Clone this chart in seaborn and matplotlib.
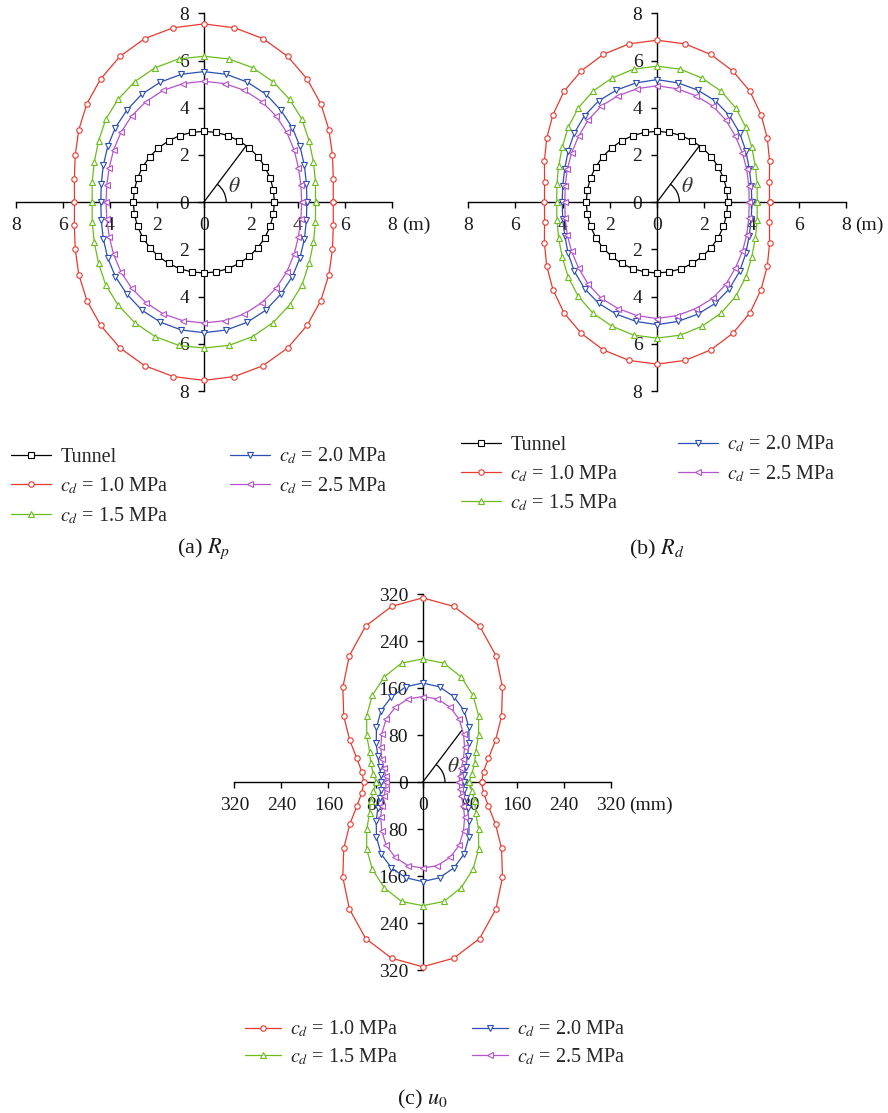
import numpy as np
import pandas as pd
import matplotlib
matplotlib.use('Agg')
import matplotlib.pyplot as plt
from matplotlib.patches import Arc
import seaborn as sns

theta_q = [0, 10, 20, 30, 40, 50, 60, 70, 80, 90]
tunnel_r = [3.0, 3.0, 3.0, 3.0, 3.0, 3.0, 3.0, 3.0, 3.0, 3.0]

# (a) plastic zone radius Rp (m)
rp_10 = [5.50, 5.59, 5.82, 6.14, 6.49, 6.82, 7.13, 7.37, 7.50, 7.55]
rp_15 = [4.75, 4.82, 4.96, 5.17, 5.45, 5.68, 5.89, 6.06, 6.16, 6.18]
rp_20 = [4.38, 4.43, 4.55, 4.72, 4.91, 5.09, 5.28, 5.41, 5.50, 5.53]
rp_25 = [4.16, 4.19, 4.28, 4.43, 4.60, 4.77, 4.92, 5.04, 5.10, 5.12]

# (b) Rd (m)
rd_10 = [4.77, 4.84, 5.08, 5.40, 5.76, 6.13, 6.42, 6.66, 6.81, 6.86]
rd_15 = [4.25, 4.31, 4.44, 4.64, 4.92, 5.20, 5.43, 5.59, 5.72, 5.76]
rd_20 = [4.02, 4.06, 4.16, 4.35, 4.57, 4.78, 4.95, 5.05, 5.13, 5.19]
rd_25 = [3.91, 3.95, 4.05, 4.18, 4.34, 4.54, 4.71, 4.80, 4.88, 4.93]

# (c) wall displacement u0 (mm)
u0_10 = [100, 105, 119, 143, 175, 211, 249, 283, 304, 314]
u0_15 = [79, 85, 94, 104, 124, 148, 171, 191, 206, 210]
u0_20 = [70, 72, 78, 88, 103, 122, 141, 155, 165, 169]
u0_25 = [62, 64, 70, 80, 93, 108, 124, 136, 144, 146]

cd_labels = ['$c_d$ = 1.0 MPa', '$c_d$ = 1.5 MPa', '$c_d$ = 2.0 MPa', '$c_d$ = 2.5 MPa']
colors = ['#e8392e', '#6abd1c', '#2b4fb3', '#b553cc']
markers = ['o', '^', 'v', '<']

sns.set_theme(style='white')
plt.rcParams['font.family'] = ['Liberation Serif', 'DejaVu Serif']
plt.rcParams['mathtext.fontset'] = 'stix'

W, H = 888, 1113
fig = plt.figure(figsize=(W / 100, H / 100), dpi=100)


def px_axes(left, top, right, bottom):
    return fig.add_axes([left / W, 1 - bottom / H, (right - left) / W, (bottom - top) / H])


def full_curve(q):
    # mirror the quadrant to the whole circle, 0..360 deg
    r = list(q) + list(q[8::-1]) + list(q[1:]) + list(q[8::-1])
    ang = np.deg2rad(np.arange(0, 361, 10))
    r = np.array(r, dtype=float)
    return pd.DataFrame({'x': r * np.cos(ang), 'y': r * np.sin(ang)})


def draw_curve(ax, q, color, marker, label):
    df = full_curve(q)
    sns.lineplot(data=df, x='x', y='y', sort=False, estimator=None, ax=ax,
                 color=color, linewidth=0.9, marker=marker, markersize=3.9,
                 markerfacecolor='white', markeredgecolor=color,
                 markeredgewidth=0.8, label=label, clip_on=False)


def style_axes(ax, lim, step, unit, unit_dx, theta_len, arc_r, theta_xy):
    ax.set_xlim(-lim, lim)
    ax.set_ylim(-lim, lim)
    for s in ['top', 'right']:
        ax.spines[s].set_visible(False)
    for s in ['left', 'bottom']:
        ax.spines[s].set_position(('data', 0))
        ax.spines[s].set_color('black')
        ax.spines[s].set_linewidth(1.0)
        ax.spines[s].set_zorder(1)
    ticks = np.arange(-lim, lim + 1, step)
    tl = [str(abs(int(t))) for t in ticks]
    ax.set_xticks(ticks)
    ax.set_xticklabels(tl)
    ax.set_yticks(ticks)
    ax.set_yticklabels(tl)
    ax.tick_params(direction='out', length=4.5, width=1.0, color='black',
                   labelsize=14, labelcolor='#1a1a1a', pad=6,
                   bottom=True, left=True)
    ax.set_xlabel('')
    ax.set_ylabel('')
    ax.annotate(unit, xy=(lim, 0), xycoords='data', xytext=(unit_dx, -10.5),
                textcoords='offset points', ha='left', va='top',
                fontsize=14, color='#1a1a1a')
    # theta indicator
    a = np.deg2rad(53)
    ax.plot([0, theta_len * np.cos(a)], [0, theta_len * np.sin(a)],
            color='black', linewidth=0.9, zorder=3)
    ax.add_patch(Arc((0, 0), 2 * arc_r, 2 * arc_r, theta1=0, theta2=53,
                     color='black', linewidth=0.9, zorder=3))
    ax.text(theta_xy[0], theta_xy[1], r'$\theta$', fontsize=15.5,
            color='#333333', ha='center', va='center')
    ax.patch.set_alpha(0)


def add_legend(ax, x0, y0, colsp, hlen, lsp):
    handles, labels = ax.get_legend_handles_labels()
    ax.legend(handles, labels, loc='upper left',
              bbox_to_anchor=(x0 / W, 1 - y0 / H), bbox_transform=fig.transFigure,
              ncol=2, frameon=False, fontsize=14.5, handlelength=hlen,
              handletextpad=0.45, columnspacing=colsp, labelspacing=lsp,
              borderaxespad=0, borderpad=0)


# (a) Rp
ax1 = px_axes(15.7, 13.3, 392, 391)
draw_curve(ax1, tunnel_r, 'black', 's', 'Tunnel')
for q, c, m, lab in zip([rp_10, rp_15, rp_20, rp_25], colors, markers, cd_labels):
    draw_curve(ax1, q, c, m, lab)
style_axes(ax1, 8, 2, '(m)', 7, 3.0, 0.95, (1.3, 0.62))
add_legend(ax1, 11, 446, 3.05, 2.0, 0.44)

# (b) Rd
ax2 = px_axes(468.3, 13.3, 845.7, 391)
draw_curve(ax2, tunnel_r, 'black', 's', 'Tunnel')
for q, c, m, lab in zip([rd_10, rd_15, rd_20, rd_25], colors, markers, cd_labels):
    draw_curve(ax2, q, c, m, lab)
style_axes(ax2, 8, 2, '(m)', 7, 3.0, 0.95, (1.3, 0.62))
add_legend(ax2, 461, 434, 2.95, 2.0, 0.42)

# (c) u0
ax3 = px_axes(234.3, 594.3, 611, 970.3)
for q, c, m, lab in zip([u0_10, u0_15, u0_20, u0_25], colors, markers, cd_labels):
    draw_curve(ax3, q, c, m, lab)
style_axes(ax3, 320, 80, '(mm)', 13, 110, 38, (52, 25))
add_legend(ax3, 245, 1019, 3.65, 1.8, 0.32)

fig.text(204 / W, 1 - 549 / H, '(a) $R_p$', ha='center', va='center', fontsize=16, color='#1a1a1a')
fig.text(657 / W, 1 - 549 / H, '(b) $R_d$', ha='center', va='center', fontsize=16, color='#1a1a1a')
fig.text(422 / W, 1 - 1099 / H, '(c) $u_0$', ha='center', va='center', fontsize=16, color='#1a1a1a')

fig.savefig('out.png', dpi=100)
